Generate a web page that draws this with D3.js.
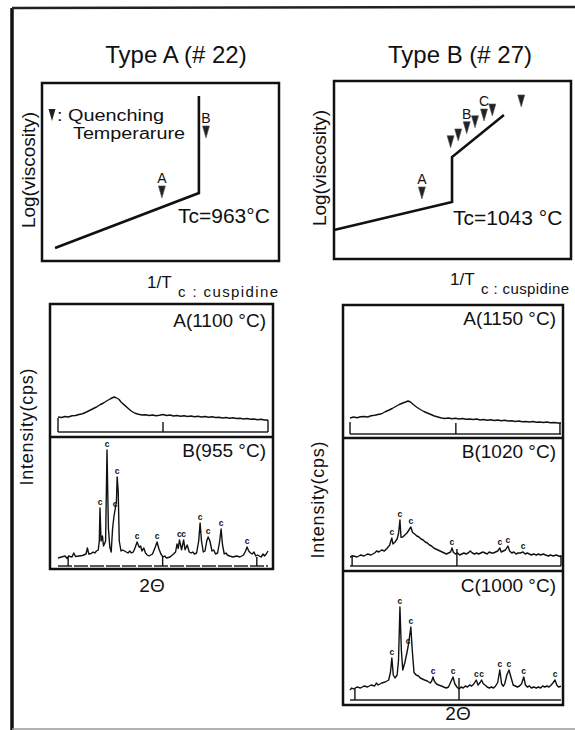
<!DOCTYPE html>
<html lang="en">
<head>
<meta charset="UTF-8">
<title>Viscosity and XRD, Type A / Type B</title>
<script src="https://d3js.org/d3.v7.min.js"></script>
<style>
  body { margin: 0; background: #fff; }
  text { font-family: "Liberation Sans", Arial, Helvetica, sans-serif; fill: #111; }
</style>
</head>
<body>
<svg id="svg"></svg>
<script>
// ---- data ----
const panelTitles = ["Type A (# 22)", "Type B (# 27)"];
const tcLabels = ["Tc=963°C", "Tc=1043 °C"];

// log(viscosity) vs 1/T, both axes in relative units 0..100
const viscLineA = [[5.5, 7.3], [66.2, 38.2], [66.2, 92.7]];
const viscLineB = [[0, 16.3], [49.8, 32], [49.8, 57.3], [71.7, 80.9]];
const quenchA = [[50.6, 38.8, "A"], [69.2, 72.5, "B"]];
const quenchB = [[37.1, 37.1, "A"], [49.2, 65.9, ""], [52.4, 69.7, ""], [56, 73.8, "B"],
                 [59.5, 77.1, ""], [63.3, 80.9, "C"], [66.8, 83.7, ""], [79, 88.8, ""]];

// XRD patterns, [2theta, cps]
const xrdA1100 = [[10,120],[11,116],[12,124],[13,120],[14,130],[15,132],[16,140],[17,146],[18,158],[19,172],[20,186],[21,200],[22,218],[23,232],[24,250],[25,266],[26,280],[26.6,274],[27.4,262],[28,240],[29,215],[30,190],[31,166],[32,150],[33,142],[34,136],[35,138],[36,132],[37,136],[38,130],[39,134],[40,140],[41,132],[42,136],[43,128],[44,132],[45,126],[46,130],[47,124],[48,128],[49,122],[50,126],[51,120],[52,124],[53,118],[54,122],[55,116],[56,118],[57,112],[58,116],[59,110],[60,114],[61,108],[62,110],[63,104],[64,108],[65,102],[66,104],[67,98],[68,102],[69,96],[70,96]];
const xrdB955 = [[10,64],[11,72],[12,80],[12.6,60],[13,80],[14,72],[14.5,104],[15,76],[16,80],[17,84],[18,96],[18.4,144],[18.8,96],[19.5,100],[20,112],[20.5,104],[21,120],[21.5,128],[21.8,200],[22.0,464],[22.3,200],[22.7,240],[23,160],[23.6,200],[24.0,928],[24.4,300],[24.8,152],[25.2,112],[25.6,300],[26.0,400],[26.3,448],[26.7,520],[26.9,712],[27.2,600],[27.5,200],[28,120],[28.5,128],[29,120],[29.5,112],[30,104],[30.5,120],[31,104],[31.5,112],[32,144],[32.6,192],[33.2,150],[33.6,160],[34,120],[34.5,144],[35,104],[35.5,88],[36,80],[37,96],[37.8,152],[38.3,192],[38.8,140],[39.4,96],[40,72],[40.5,80],[41,64],[42,72],[43,96],[43.6,112],[44,176],[44.35,140],[44.7,208],[45.3,130],[45.9,208],[46.3,130],[46.9,168],[47.5,112],[48,104],[48.5,112],[49,96],[49.6,104],[50.2,200],[50.6,344],[51,200],[51.5,112],[52,120],[52.5,200],[52.9,232],[53.4,200],[54,120],[54.5,128],[55,96],[55.6,104],[56.2,200],[56.6,296],[57,170],[57.5,96],[58,104],[58.4,88],[59,80],[60,72],[61,80],[62,72],[63,88],[63.6,120],[64,152],[64.5,120],[65,104],[65.5,96],[66,112],[66.5,80],[67,88],[68,72],[68.6,96],[69,80],[69.5,96],[70,120]];
const xrdA1150 = [[10,128],[11,136],[12,130],[13,138],[14,140],[15,136],[16,146],[17,150],[18,156],[19,162],[20,178],[21,190],[22,204],[23,220],[24,236],[25,248],[26,258],[26.5,264],[27.2,256],[28,236],[29,214],[30,196],[31,180],[32,168],[33,156],[34,144],[35,136],[36,128],[37,124],[38,128],[39,122],[40,126],[41,120],[42,124],[43,118],[44,120],[45,116],[46,120],[47,112],[48,116],[49,110],[50,114],[51,108],[52,112],[53,106],[54,110],[55,104],[56,106],[57,100],[58,104],[59,98],[60,100],[61,96],[62,100],[63,94],[64,96],[65,92],[66,96],[67,90],[68,92],[69,88],[70,88]];
const xrdB1020 = [[10,72],[11,80],[12,72],[13,88],[14,80],[15,96],[16,88],[17,104],[17.6,120],[18.2,112],[19,128],[19.8,120],[20.6,144],[21.3,168],[21.6,200],[21.9,224],[22.2,176],[22.8,192],[23.4,216],[23.8,260],[24.2,368],[24.5,230],[25,232],[25.6,248],[26.2,264],[26.8,290],[27.3,312],[27.8,268],[28.4,256],[29,240],[29.6,232],[30.2,216],[30.8,208],[31.4,192],[32,184],[32.6,168],[33.2,160],[33.8,144],[34.4,136],[35,128],[35.6,120],[36.2,112],[36.8,104],[37.4,96],[38,104],[38.6,112],[39,144],[39.4,110],[40,96],[40.6,104],[41.2,88],[41.8,96],[42.4,104],[43,96],[43.6,104],[44.2,120],[44.8,104],[45.4,96],[46,104],[46.6,96],[47.2,104],[47.8,112],[48.4,104],[49,96],[49.6,112],[50.2,104],[50.8,104],[51.4,112],[52,120],[52.6,144],[53,112],[53.6,120],[54.2,128],[54.9,160],[55.4,120],[56,104],[56.6,112],[57.2,96],[57.8,104],[58.4,104],[59.2,112],[59.8,96],[60.4,104],[61,96],[61.6,88],[62.2,96],[63,88],[63.6,96],[64.2,88],[65,96],[65.6,88],[66.4,80],[67,88],[67.8,80],[68.6,88],[69.4,80],[70,72]];
const xrdC1000 = [[10,80],[10.5,96],[11,88],[12,104],[13,96],[14,112],[15,104],[16,120],[17,112],[17.5,136],[18,120],[19,136],[20,144],[21,160],[21.5,220],[21.9,336],[22.3,200],[22.8,176],[23.4,200],[23.8,320],[24.2,744],[24.6,400],[25,240],[25.6,300],[26.2,380],[26.5,424],[26.9,500],[27.3,584],[27.7,400],[28.2,220],[28.8,200],[29.5,192],[30,176],[30.6,168],[31.2,160],[32,152],[32.8,136],[33.2,150],[33.6,184],[34,150],[34.6,128],[35.2,120],[36,112],[36.6,104],[37.4,96],[38,104],[38.6,140],[39.3,184],[39.8,130],[40.4,104],[41,88],[41.6,104],[42.2,96],[42.8,112],[43.4,104],[44,120],[44.6,112],[45.2,128],[45.9,160],[46.4,120],[47,140],[47.4,160],[47.9,130],[48.4,120],[49,104],[49.6,96],[50.2,104],[50.8,96],[51.4,112],[52,140],[52.6,240],[53.1,130],[53.6,110],[54,130],[54.6,200],[55.2,240],[55.8,180],[56.4,120],[57,112],[57.6,104],[58.2,112],[58.8,130],[59.4,184],[59.9,120],[60.4,104],[61,112],[61.6,96],[62.2,104],[63,96],[63.6,104],[64.2,96],[64.8,112],[65.4,104],[66,112],[66.6,104],[67.2,120],[67.8,140],[68.3,160],[68.8,120],[69.3,104],[70,110]];

// cuspidine ("c") peak positions, 2theta
const cPeaksB955 = [22.0, 24.0, 26.3, 26.9, 32.6, 38.3, 44.7, 45.9, 50.6, 52.9, 56.6, 64.0];
const cPeaksB1020 = [21.9, 24.2, 27.3, 39.0, 52.6, 54.9, 59.2];
const cPeaksC1000 = [21.9, 24.2, 26.5, 27.3, 33.6, 39.3, 45.9, 47.4, 52.6, 55.2, 59.4, 68.3];

// baseline ticks [2theta, cps]
const ticksA1100 = [[10,112],[40,80],[70,96]];
const ticksB955 = [[12.9,72],[39.9,72],[66.8,72]];
const ticksA1150 = [[10,96],[40.1,88],[69.7,88]];
const ticksB1020 = [[10.6,88],[40.4,136],[70,88]];
const ticksC1000 = [[11.4,96],[41,176]];

// ---- drawing ----
const W = 575, H = 730;
const svg = d3.select('#svg').attr('width', W).attr('height', H);

// page frame of the scan
svg.append('line').attr('x1', 12).attr('y1', 8).attr('x2', 12).attr('y2', H)
  .attr('stroke', '#111').attr('stroke-width', 3.5);
svg.append('line').attr('x1', 12).attr('y1', 8).attr('x2', W).attr('y2', 7)
  .attr('stroke', '#222').attr('stroke-width', 2.5);
svg.append('line').attr('x1', 12).attr('y1', 729).attr('x2', W).attr('y2', 729)
  .attr('stroke', '#999').attr('stroke-width', 1.5);

const tri = 'M-3.5,-6L3.5,-6L0,6Z';

function viscPanel(box, title, titleX, line, marks, tc, tcX, tcY, ylabX, tX, tY, subLen, legend) {
  const [x0, y0, x1, y1] = box;
  const x = d3.scaleLinear().domain([0, 100]).range([x0, x1]);
  const y = d3.scaleLinear().domain([0, 100]).range([y1, y0]);

  svg.append('text').attr('x', titleX).attr('y', 63).attr('text-anchor', 'middle')
    .style('font-size', '24px').text(title);
  svg.append('rect').attr('x', x0).attr('y', y0).attr('width', x1 - x0).attr('height', y1 - y0)
    .attr('fill', 'none').attr('stroke', '#111').attr('stroke-width', 2.5);

  svg.append('path').datum(line)
    .attr('d', d3.line().x(d => x(d[0])).y(d => y(d[1])))
    .attr('fill', 'none').attr('stroke', '#111').attr('stroke-width', 2.6);

  const g = svg.selectAll(null).data(marks).enter().append('g')
    .attr('transform', d => `translate(${x(d[0])},${y(d[1])})`);
  g.append('path').attr('d', tri).attr('fill', '#222').attr('stroke', '#555').attr('stroke-width', 0.6);
  g.append('text').attr('y', -9).attr('text-anchor', 'middle')
    .style('font-size', '14px').text(d => d[2]);

  svg.append('text').attr('x', tcX).attr('y', tcY).style('font-size', '21px').text(tc);

  svg.append('text').attr('transform', `translate(${ylabX},${(y0 + y1) / 2 - 2}) rotate(-90)`)
    .attr('text-anchor', 'middle').style('font-size', '19px').text('Log(viscosity)');

  svg.append('text').attr('x', tX).attr('y', tY).style('font-size', '17px').text('1/T');
  svg.append('text').attr('x', tX + 31).attr('y', tY + 9).style('font-size', '15px')
    .attr('textLength', subLen).attr('lengthAdjust', 'spacing').text('c : cuspidine');

  if (legend) {
    svg.append('path').attr('d', tri).attr('transform', `translate(${x0 + 10},115)`)
      .attr('fill', '#222');
    svg.append('text').attr('x', x0 + 15).attr('y', 121).style('font-size', '16px')
      .attr('textLength', 107).attr('lengthAdjust', 'spacingAndGlyphs').text(': Quenching');
    svg.append('text').attr('x', x0 + 31).attr('y', 139).style('font-size', '16px')
      .attr('textLength', 112).attr('lengthAdjust', 'spacingAndGlyphs').text('Temperarure');
  }
}

viscPanel([42, 83, 279, 261], panelTitles[0], 176, viscLineA, quenchA, tcLabels[0], 178, 223, 35, 147, 288, 100, true);
viscPanel([334, 81, 571, 259], panelTitles[1], 460, viscLineB, quenchB, tcLabels[1], 453, 225, 326, 450, 285, 88, false);

// XRD stacks
function xrdStack(box, dividers, xr, subs, ylabX, ylabY, thetaX, thetaY) {
  const [x0, y0, x1, y1] = box;
  svg.append('rect').attr('x', x0).attr('y', y0).attr('width', x1 - x0).attr('height', y1 - y0)
    .attr('fill', 'none').attr('stroke', '#111').attr('stroke-width', 2.5);
  dividers.forEach(d => {
    svg.append('line').attr('x1', x0).attr('x2', x1).attr('y1', d).attr('y2', d)
      .attr('stroke', '#111').attr('stroke-width', 2.5);
  });
  const x = d3.scaleLinear().domain([10, 70]).range(xr);

  subs.forEach(s => {
    const y = d3.scaleLinear().domain([0, 1000]).range([s.bracket, s.bracket - 125]);
    svg.append('text').attr('x', x1 - 7).attr('y', s.labelY).attr('text-anchor', 'end')
      .style('font-size', '19px').text(s.label);
    // baseline bracket
    svg.append('line').attr('x1', x(10)).attr('x2', x(70)).attr('y1', s.bracket).attr('y2', s.bracket)
      .attr('stroke', '#222').attr('stroke-width', 1.3).attr('stroke-dasharray', s.dash || null);
    svg.selectAll(null).data(s.ticks).enter().append('line')
      .attr('x1', d => x(d[0])).attr('x2', d => x(d[0]))
      .attr('y1', y(0)).attr('y2', d => y(d[1]))
      .attr('stroke', '#111').attr('stroke-width', 1.4);
    svg.append('path').datum(s.data)
      .attr('d', d3.line().x(d => x(d[0])).y(d => y(d[1])))
      .attr('fill', 'none').attr('stroke', '#111').attr('stroke-width', 1.4)
      .attr('stroke-linejoin', 'round');
    const peakAt = t => d3.least(s.data, d => Math.abs(d[0] - t))[1];
    svg.selectAll(null).data(s.peaks || []).enter().append('text')
      .attr('x', d => x(d)).attr('y', d => y(peakAt(d)) - 3)
      .attr('text-anchor', 'middle').style('font-size', '8.5px').style('font-weight', 'bold')
      .text('c');
  });

  svg.append('text').attr('transform', `translate(${ylabX},${ylabY}) rotate(-90)`)
    .attr('text-anchor', 'middle').style('font-size', '18px')
    .attr('textLength', 117).attr('lengthAdjust', 'spacing').text('Intensity(cps)');
  svg.append('text').attr('x', thetaX).attr('y', thetaY).attr('text-anchor', 'middle')
    .style('font-size', '19px').text('2Θ');
}

xrdStack([50, 304, 273, 569], [437], [58, 268], [
  { label: 'A(1100 °C)', labelY: 327, bracket: 432, data: xrdA1100, ticks: ticksA1100 },
  { label: 'B(955 °C)', labelY: 457, bracket: 566, data: xrdB955, ticks: ticksB955, peaks: cPeaksB955, dash: '14,2' }
], 33, 427, 152, 592);

xrdStack([343, 305, 563, 705], [438, 571], [350, 561], [
  { label: 'A(1150 °C)', labelY: 325, bracket: 434, data: xrdA1150, ticks: ticksA1150 },
  { label: 'B(1020 °C)', labelY: 458, bracket: 566, data: xrdB1020, ticks: ticksB1020, peaks: cPeaksB1020 },
  { label: 'C(1000 °C)', labelY: 592, bracket: 700, data: xrdC1000, ticks: ticksC1000, peaks: cPeaksC1000 }
], 324, 500, 458, 720);
</script>
</body>
</html>
